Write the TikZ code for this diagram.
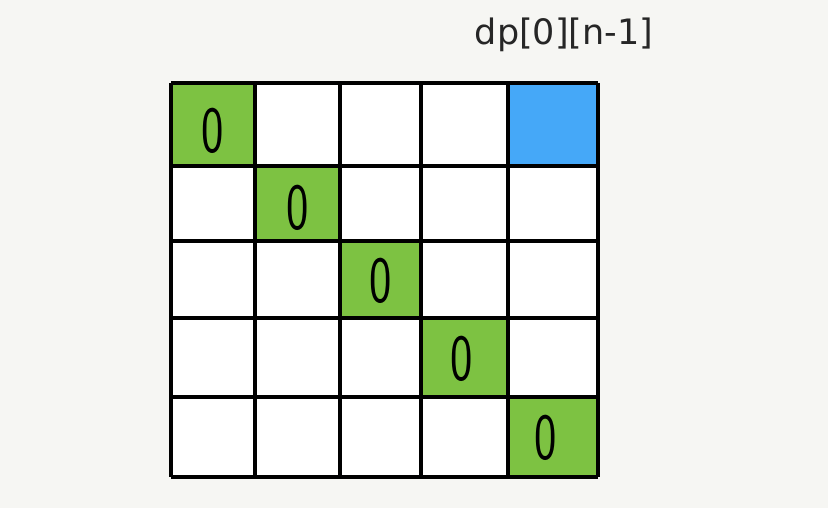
\documentclass[tikz,border=0pt]{standalone}
\usepackage{fontspec}
\setmainfont{Open Sans}
\newfontfamily\lblfont{DejaVu Sans}
\definecolor{bg}{HTML}{F6F6F3}
\definecolor{cellgreen}{HTML}{7DC242}
\definecolor{cellblue}{HTML}{45A8F8}
\begin{document}
\begin{tikzpicture}[x=1pt,y=-1pt,
  gridline/.style={line width=3.2pt,black},
  zero/.style={font=\sffamily\fontsize{66}{66}\selectfont,inner sep=0pt,xscale=0.72}]
\fill[bg] (0,0) rectangle (828,508);
\useasboundingbox (0,0) rectangle (828,508);
\def\xs{{171,255,340,421,508,598}}
\def\ys{{83,166,241,318,397,477}}
\fill[white] (171,83) rectangle (598,477);
% green diagonal
\foreach \i in {0,...,4}{
  \pgfmathsetmacro{\xa}{\xs[\i]}
  \pgfmathsetmacro{\xb}{\xs[\i+1]}
  \pgfmathsetmacro{\ya}{\ys[\i]}
  \pgfmathsetmacro{\yb}{\ys[\i+1]}
  \fill[cellgreen] (\xa,\ya) rectangle (\xb,\yb);
}
\fill[cellblue] (508,83) rectangle (598,166);
\foreach \i in {0,...,5}{
  \pgfmathsetmacro{\xx}{\xs[\i]}
  \pgfmathsetmacro{\yy}{\ys[\i]}
  \draw[gridline] (\xx,83) -- (\xx,477);
  \draw[gridline] (171,\yy) -- (598,\yy);
}
\node[zero] (z0) at (213,131) {0};
\node[zero] (z1) at (298,208) {0};
\node[zero] (z2) at (381,281) {0};
\node[zero] (z3) at (462,359) {0};
\node[zero] (z4) at (546,438) {0};
\node[font=\lblfont\fontsize{35}{35}\selectfont,text=black!85,anchor=center] (lbl) at (564,35) {dp[0][n-1]};
\end{tikzpicture}
\end{document}
